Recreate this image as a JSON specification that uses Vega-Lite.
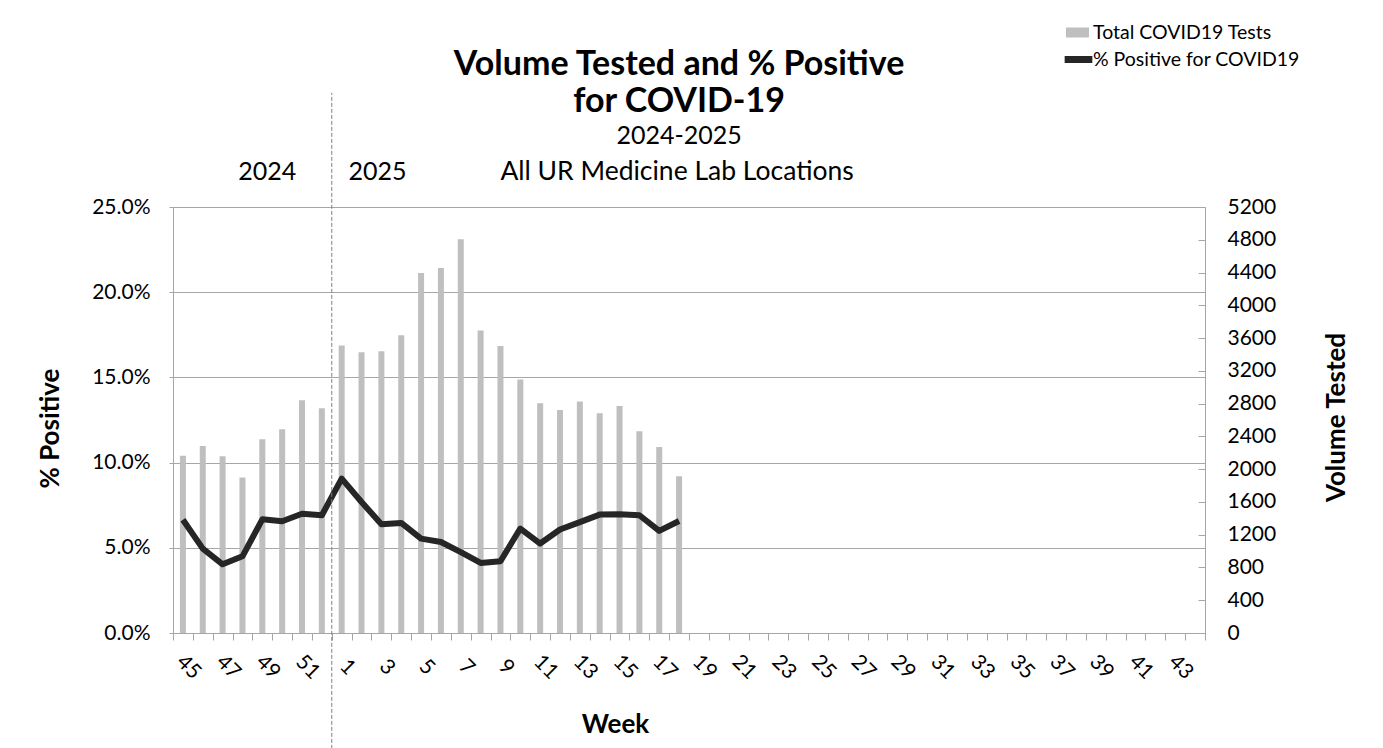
{
  "$schema": "https://vega.github.io/schema/vega-lite/v6.json",
  "width": 1032,
  "height": 426,
  "autosize": {"type": "none"},
  "padding": {"left": 173, "top": 207, "right": 178, "bottom": 115},
  "background": "white",
  "config": {
    "font": "Lato",
    "view": {"stroke": "#A6A6A6", "strokeWidth": 1},
    "axis": {"labelFont": "Lato", "titleFont": "Lato", "labelColor": "#000000", "titleColor": "#000000"},
    "legend": {"labelFont": "Lato", "labelColor": "#000000", "labelLimit": 0}
  },
  "datasets": {
    "main": [
      {"week": "45", "tests": 2165, "pct": 0.0665},
      {"week": "46", "tests": 2283, "pct": 0.0495},
      {"week": "47", "tests": 2157, "pct": 0.0403},
      {"week": "48", "tests": 1897, "pct": 0.0450},
      {"week": "49", "tests": 2364, "pct": 0.0667},
      {"week": "50", "tests": 2487, "pct": 0.0656},
      {"week": "51", "tests": 2841, "pct": 0.0700},
      {"week": "52", "tests": 2743, "pct": 0.0691},
      {"week": "1", "tests": 3508, "pct": 0.0906},
      {"week": "2", "tests": 3427, "pct": 0.0769},
      {"week": "3", "tests": 3439, "pct": 0.0638},
      {"week": "4", "tests": 3634, "pct": 0.0646},
      {"week": "5", "tests": 4395, "pct": 0.0554},
      {"week": "6", "tests": 4456, "pct": 0.0534},
      {"week": "7", "tests": 4806, "pct": 0.0475},
      {"week": "8", "tests": 3691, "pct": 0.0411},
      {"week": "9", "tests": 3503, "pct": 0.0421},
      {"week": "10", "tests": 3093, "pct": 0.0613},
      {"week": "11", "tests": 2804, "pct": 0.0525},
      {"week": "12", "tests": 2722, "pct": 0.0607},
      {"week": "13", "tests": 2825, "pct": 0.0651},
      {"week": "14", "tests": 2682, "pct": 0.0695},
      {"week": "15", "tests": 2771, "pct": 0.0697},
      {"week": "16", "tests": 2462, "pct": 0.0691},
      {"week": "17", "tests": 2271, "pct": 0.0599},
      {"week": "18", "tests": 1913, "pct": 0.0657}
    ],
    "sep": [{"week": "1", "y1": -0.068, "y2": 0.317}],
    "y2024": [{"label": "2024", "week": "49", "pos": 0.2657}],
    "y2025": [{"label": "2025", "week": "3", "pos": 0.2657}],
    "heading": [
      {"label": "Volume Tested and % Positive", "week": "18", "pos": 0.3273},
      {"label": "for COVID-19", "week": "18", "pos": 0.3056}
    ],
    "subheading1": [
      {"label": "2024-2025", "week": "18", "pos": 0.2868}
    ],
    "subheading2": [
      {"label": "All UR Medicine Lab Locations", "week": "18", "pos": 0.2657}
    ]
  },
  "layer": [
    {
      "data": {"name": "main"},
      "mark": {"type": "bar", "width": 6},
      "encoding": {
        "x": {
          "field": "week", "type": "ordinal",
          "scale": {"type": "band", "paddingInner": 0, "paddingOuter": 0, "domain": ["45","46","47","48","49","50","51","52","1","2","3","4","5","6","7","8","9","10","11","12","13","14","15","16","17","18","19","20","21","22","23","24","25","26","27","28","29","30","31","32","33","34","35","36","37","38","39","40","41","42","43","44"]},
          "axis": {
            "title": "Week", "titleFontSize": 26, "titleFontWeight": "bold",
            "titleX": 442, "titleY": 99, "titleBaseline": "alphabetic", "titleAlign": "center",
            "labelAngle": 45, "labelAlign": "center", "labelBaseline": "middle",
            "labelPadding": 27, "labelOffset": 5, "labelFontSize": 21,
            "labelExpr": "toNumber(datum.value) % 2 == 1 ? datum.label : ''",
            "labelOverlap": false, "labelBound": false,
            "tickBand": "extent", "tickSize": 7, "tickColor": "#A6A6A6",
            "domainColor": "#A6A6A6", "grid": false
          }
        },
        "y": {
          "field": "tests", "type": "quantitative",
          "scale": {"domain": [0, 5200], "nice": false},
          "axis": {
            "orient": "right", "title": "Volume Tested", "titleFontSize": 26, "titleFontWeight": "bold",
            "titleAngle": -90, "titleX": 131, "titleY": 210, "titleAlign": "center", "titleBaseline": "middle",
            "values": [0,400,800,1200,1600,2000,2400,2800,3200,3600,4000,4400,4800,5200],
            "format": "d", "labelFontSize": 21, "labelPadding": 29,
            "tickSize": -7, "tickColor": "#A6A6A6", "domainColor": "#A6A6A6", "grid": false
          }
        },
        "color": {
          "datum": "Total COVID19 Tests", "type": "nominal",
          "scale": {"range": ["#BFBFBF"]},
          "legend": {
            "orient": "none", "legendX": 893, "legendY": -186, "title": null,
            "symbolType": "M-1,-0.435H1V0.435H-1Z", "symbolSize": 529, "symbolStrokeWidth": 0,
            "labelFontSize": 19.5, "labelOffset": 4, "padding": 0
          }
        }
      }
    },
    {
      "layer": [
        {
          "data": {"name": "main"},
          "mark": {"type": "line", "strokeWidth": 6, "strokeJoin": "round"},
          "encoding": {
            "x": {"field": "week", "type": "ordinal", "scale": {"type": "band", "paddingInner": 0, "paddingOuter": 0, "domain": ["45","46","47","48","49","50","51","52","1","2","3","4","5","6","7","8","9","10","11","12","13","14","15","16","17","18","19","20","21","22","23","24","25","26","27","28","29","30","31","32","33","34","35","36","37","38","39","40","41","42","43","44"]}},
            "y": {
              "field": "pct", "type": "quantitative",
              "scale": {"domain": [0, 0.25], "nice": false},
              "axis": {
                "orient": "left", "title": "% Positive", "titleFontSize": 26, "titleFontWeight": "bold",
                "titleX": -123, "titleY": 221, "titleAlign": "center", "titleBaseline": "middle", "titleAngle": -90,
                "values": [0, 0.05, 0.1, 0.15, 0.2, 0.25], "format": ".1%",
                "labelFontSize": 21, "labelPadding": 19, "tickSize": 4, "tickColor": "#A6A6A6",
                "domainColor": "#A6A6A6", "grid": true, "gridColor": "#A6A6A6", "gridWidth": 1
              }
            },
            "stroke": {
              "datum": "% Positive for COVID19", "type": "nominal",
              "scale": {"range": ["#262626"]},
              "legend": {
                "orient": "none", "legendX": 888, "legendY": -165, "title": null,
                "symbolType": "stroke", "symbolSize": 767, "symbolStrokeWidth": 7,
                "labelFontSize": 19.5, "labelOffset": -3, "padding": 0
              }
            }
          }
        },
        {
          "data": {"name": "sep"},
          "mark": {"type": "rule", "strokeDash": [4, 2], "color": "#7F7F7F", "strokeWidth": 1},
          "encoding": {
            "x": {"field": "week", "type": "ordinal", "bandPosition": 0, "scale": {"type": "band", "paddingInner": 0, "paddingOuter": 0, "domain": ["45","46","47","48","49","50","51","52","1","2","3","4","5","6","7","8","9","10","11","12","13","14","15","16","17","18","19","20","21","22","23","24","25","26","27","28","29","30","31","32","33","34","35","36","37","38","39","40","41","42","43","44"]}},
            "y": {"field": "y1", "type": "quantitative", "scale": {"domain": [0, 0.25], "nice": false}, "title": "% Positive"},
            "y2": {"field": "y2"}
          }
        },
        {
          "data": {"name": "y2024"},
          "mark": {"type": "text", "fontSize": 25, "font": "Lato", "align": "center", "baseline": "alphabetic", "dx": 5, "color": "#000000"},
          "encoding": {
            "x": {"field": "week", "type": "ordinal", "scale": {"type": "band", "paddingInner": 0, "paddingOuter": 0, "domain": ["45","46","47","48","49","50","51","52","1","2","3","4","5","6","7","8","9","10","11","12","13","14","15","16","17","18","19","20","21","22","23","24","25","26","27","28","29","30","31","32","33","34","35","36","37","38","39","40","41","42","43","44"]}},
            "y": {"field": "pos", "type": "quantitative", "scale": {"domain": [0, 0.25], "nice": false}, "title": "% Positive"},
            "text": {"field": "label"}
          }
        },
        {
          "data": {"name": "y2025"},
          "mark": {"type": "text", "fontSize": 25, "font": "Lato", "align": "center", "baseline": "alphabetic", "dx": -4, "color": "#000000"},
          "encoding": {
            "x": {"field": "week", "type": "ordinal", "scale": {"type": "band", "paddingInner": 0, "paddingOuter": 0, "domain": ["45","46","47","48","49","50","51","52","1","2","3","4","5","6","7","8","9","10","11","12","13","14","15","16","17","18","19","20","21","22","23","24","25","26","27","28","29","30","31","32","33","34","35","36","37","38","39","40","41","42","43","44"]}},
            "y": {"field": "pos", "type": "quantitative", "scale": {"domain": [0, 0.25], "nice": false}, "title": "% Positive"},
            "text": {"field": "label"}
          }
        },
        {
          "data": {"name": "heading"},
          "mark": {"type": "text", "fontSize": 34, "fontWeight": "bold", "font": "Lato", "align": "center", "baseline": "alphabetic", "color": "#000000"},
          "encoding": {
            "x": {"field": "week", "type": "ordinal", "scale": {"type": "band", "paddingInner": 0, "paddingOuter": 0, "domain": ["45","46","47","48","49","50","51","52","1","2","3","4","5","6","7","8","9","10","11","12","13","14","15","16","17","18","19","20","21","22","23","24","25","26","27","28","29","30","31","32","33","34","35","36","37","38","39","40","41","42","43","44"]}},
            "y": {"field": "pos", "type": "quantitative", "scale": {"domain": [0, 0.25], "nice": false}, "title": "% Positive"},
            "text": {"field": "label"}
          }
        },
        {
          "data": {"name": "subheading1"},
          "mark": {"type": "text", "fontSize": 25, "font": "Lato", "align": "center", "baseline": "alphabetic", "color": "#000000"},
          "encoding": {
            "x": {"field": "week", "type": "ordinal", "scale": {"type": "band", "paddingInner": 0, "paddingOuter": 0, "domain": ["45","46","47","48","49","50","51","52","1","2","3","4","5","6","7","8","9","10","11","12","13","14","15","16","17","18","19","20","21","22","23","24","25","26","27","28","29","30","31","32","33","34","35","36","37","38","39","40","41","42","43","44"]}},
            "y": {"field": "pos", "type": "quantitative", "scale": {"domain": [0, 0.25], "nice": false}, "title": "% Positive"},
            "text": {"field": "label"}
          }
        },
        {
          "data": {"name": "subheading2"},
          "mark": {"type": "text", "fontSize": 26.5, "font": "Lato", "align": "center", "baseline": "alphabetic", "dx": -2, "color": "#000000"},
          "encoding": {
            "x": {"field": "week", "type": "ordinal", "scale": {"type": "band", "paddingInner": 0, "paddingOuter": 0, "domain": ["45","46","47","48","49","50","51","52","1","2","3","4","5","6","7","8","9","10","11","12","13","14","15","16","17","18","19","20","21","22","23","24","25","26","27","28","29","30","31","32","33","34","35","36","37","38","39","40","41","42","43","44"]}},
            "y": {"field": "pos", "type": "quantitative", "scale": {"domain": [0, 0.25], "nice": false}, "title": "% Positive"},
            "text": {"field": "label"}
          }
        }
      ]
    }
  ],
  "resolve": {"scale": {"y": "independent"}}
}
